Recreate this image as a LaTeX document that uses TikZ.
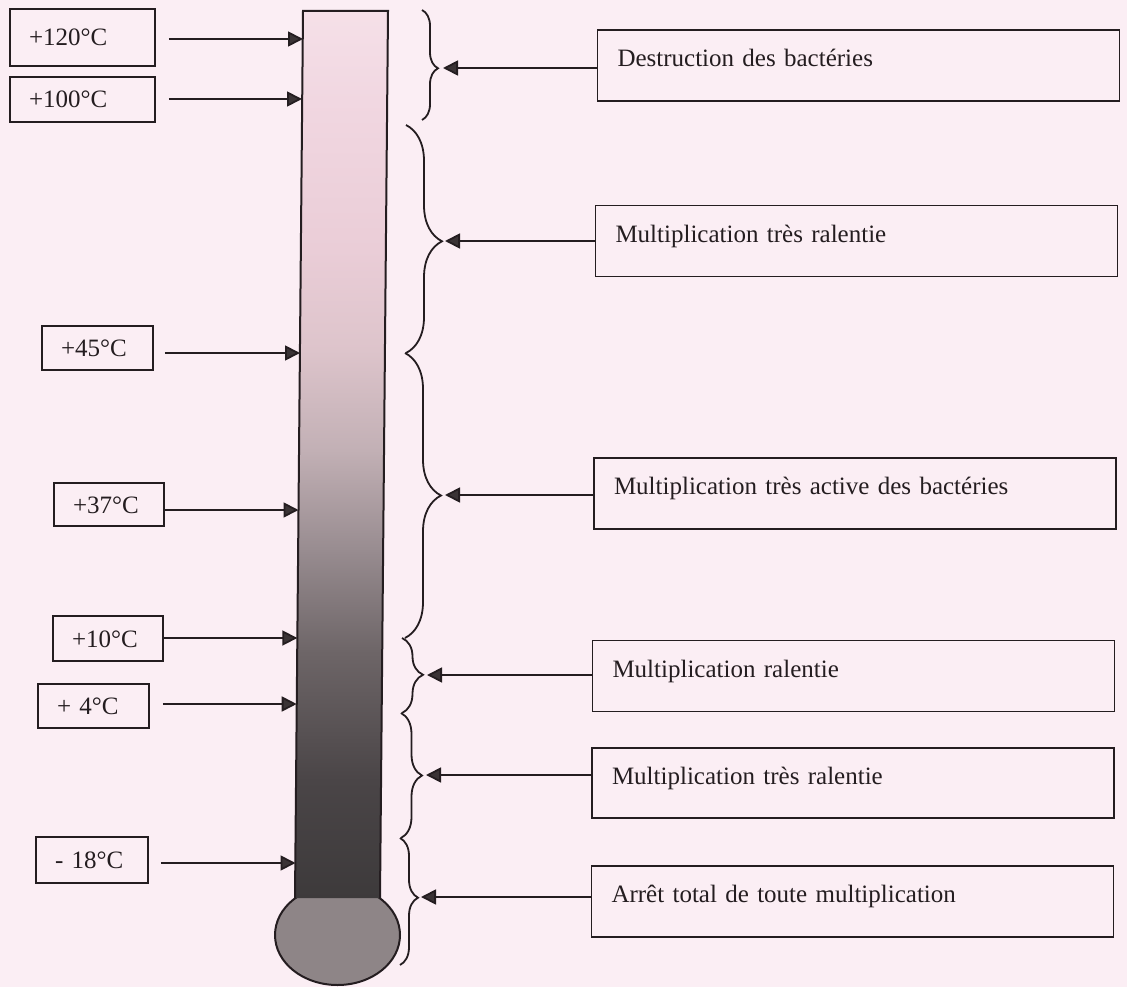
\documentclass[tikz,border=0pt]{standalone}
\usepackage{fontspec}
\setmainfont{Liberation Serif}
\usetikzlibrary{arrows.meta,decorations.pathreplacing}
\definecolor{bg}{HTML}{FBEEF4}
\definecolor{ink}{HTML}{241D20}
\definecolor{headc}{HTML}{3A3335}
\definecolor{bulbc}{HTML}{8E8587}
\definecolor{c0}{HTML}{F5E0E8}
\definecolor{c1}{HTML}{F1D7E1}
\definecolor{c2}{HTML}{EACDD7}
\definecolor{c3}{HTML}{DDC4CB}
\definecolor{c4}{HTML}{C2B0B5}
\definecolor{c5}{HTML}{988C90}
\definecolor{c6}{HTML}{6E6668}
\definecolor{c7}{HTML}{4A4547}
\definecolor{c8}{HTML}{3D3A3B}
\begin{document}
\begin{tikzpicture}[x=1pt,y=-1pt,
  txt/.style={font=\fontsize{25pt}{30pt}\selectfont, text=ink},
  lbox/.style={txt, draw=ink, line width=1.8pt, align=left, inner xsep=19pt, inner ysep=0pt, text height=17pt, text depth=0pt},
  rbox/.style={txt, draw=ink, line width=1.8pt, align=left, text width=482pt, inner xsep=20pt, inner ysep=0pt, minimum height=71pt, text height=18pt, text depth=16pt},
  arr/.style={draw=ink, line width=1.8pt, -{Triangle[length=15pt,width=15pt,fill=headc]}},
  brc/.style={draw=ink, line width=1.8pt, decorate, decoration={brace, amplitude=#1}}
]
\useasboundingbox (0,0) rectangle (1127,987);
\fill[bg] (0,0) rectangle (1127,987);

% bulb
\begin{scope}
  \clip (200,897) rectangle (480,1000);
  \filldraw[fill=bulbc, draw=ink, line width=2pt] (337.5,935) ellipse [x radius=62.5, y radius=50];
\end{scope}

% tube shading
\begin{scope}
  \clip (303,11) -- (388,11) -- (380,898) -- (295,898) -- cycle;
  \shade[top color=c0, bottom color=c1] (285,10) rectangle (395,100.5);
  \shade[top color=c1, bottom color=c2] (285,100) rectangle (395,250.5);
  \shade[top color=c2, bottom color=c3] (285,250) rectangle (395,350.5);
  \shade[top color=c3, bottom color=c4] (285,350) rectangle (395,450.5);
  \shade[top color=c4, bottom color=c5] (285,450) rectangle (395,550.5);
  \shade[top color=c5, bottom color=c6] (285,550) rectangle (395,650.5);
  \shade[top color=c6, bottom color=c7] (285,650) rectangle (395,780.5);
  \shade[top color=c7, bottom color=c8] (285,780) rectangle (395,899);
\end{scope}
\draw[ink, line width=2pt, line join=miter] (295,898) -- (303,11) -- (388,11) -- (380,898);

% tube contact points
\coordinate (e1) at (303,39);
\coordinate (e2) at (302,99);
\coordinate (e3) at (300,353);
\coordinate (e4) at (298.5,510);
\coordinate (e5) at (297.3,638);
\coordinate (e6) at (296.7,704);
\coordinate (e7) at (295.5,863);

% left boxes
\node[lbox, minimum width=145pt, minimum height=57pt, text width=107pt] (b1) at (82.5,37.5) {+120°C};
\node[lbox, minimum width=145pt, minimum height=45pt, text width=107pt] (b2) at (82.5,99.5) {+100°C};
\node[lbox, minimum width=111pt, minimum height=44pt, text width=73pt] (b3) at (97.5,348) {+45°C};
\node[lbox, minimum width=110pt, minimum height=43pt, text width=72pt] (b4) at (109,504.5) {+37°C};
\node[lbox, minimum width=110pt, minimum height=45pt, text width=72pt] (b5) at (108,638.5) {+10°C};
\node[lbox, minimum width=111pt, minimum height=44pt, text width=73pt] (b6) at (93.5,706) {+ 4°C};
\node[lbox, minimum width=112pt, minimum height=46pt, text width=74pt] (b7) at (92,860) {- 18°C};

\draw[arr, shorten <=13pt] (b1.east |- e1) -- (e1);
\draw[arr, shorten <=13pt] (b2.east |- e2) -- (e2);
\draw[arr, shorten <=11pt] (b3.east |- e3) -- (e3);
\draw[arr] (b4.east |- e4) -- (e4);
\draw[arr] (b5.east |- e5) -- (e5);
\draw[arr, shorten <=13pt] (b6.east |- e6) -- (e6);
\draw[arr, shorten <=12pt] (b7.east |- e7) -- (e7);

% braces
\draw[brc=16pt, decoration={aspect=0.53}] (422,10) -- (422,120);
\draw[brc=36pt, decoration={aspect=0.51}] (406,125) -- (406,353);
\draw[brc=36pt, decoration={aspect=0.5}] (405,353) -- (405,638);
\draw[brc=21pt, decoration={aspect=0.49}] (402,638) -- (402,713);
\draw[brc=21pt, decoration={aspect=0.5}] (401,713) -- (401,838);
\draw[brc=18pt, decoration={aspect=0.47}] (400,838) -- (400,965);

% brace tips
\coordinate (t1) at (443,68);
\coordinate (t2) at (445,241);
\coordinate (t3) at (445,495);
\coordinate (t4) at (427,675);
\coordinate (t5) at (426,775);
\coordinate (t6) at (421,897);

% right boxes
\node[rbox] (r1) at (858.5,65.5) {Destruction des bactéries};
\node[rbox] (r2) at (856.5,241) {Multiplication très ralentie};
\node[rbox] (r3) at (855,493.5) {Multiplication très active des bactéries};
\node[rbox] (r4) at (853.5,676) {Multiplication ralentie};
\node[rbox, minimum height=70pt] (r5) at (853,783) {Multiplication très ralentie};
\node[rbox] (r6) at (852.5,901.5) {Arrêt total de toute multiplication};

\draw[arr] (r1.west |- t1) -- (t1);
\draw[arr] (r2.west |- t2) -- (t2);
\draw[arr] (r3.west |- t3) -- (t3);
\draw[arr] (r4.west |- t4) -- (t4);
\draw[arr] (r5.west |- t5) -- (t5);
\draw[arr] (r6.west |- t6) -- (t6);
\end{tikzpicture}
\end{document}
